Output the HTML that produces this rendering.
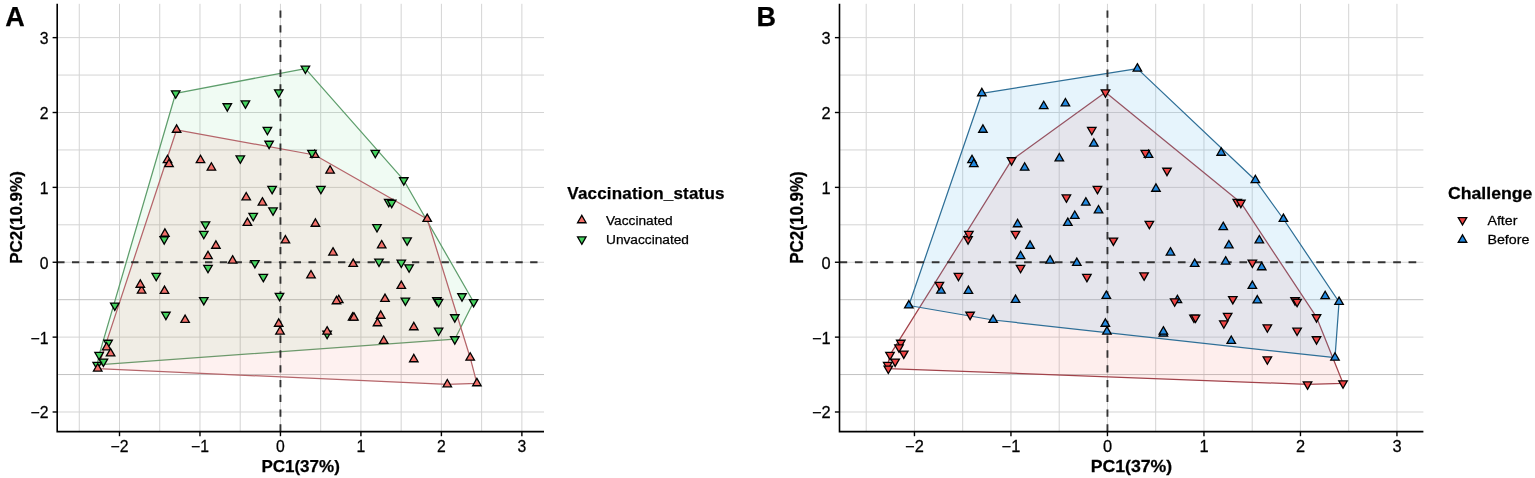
<!DOCTYPE html>
<html><head><meta charset="utf-8"><title>PCA plot</title>
<style>html,body{margin:0;padding:0;background:#fff;width:1535px;height:478px;overflow:hidden}svg{display:block}</style>
</head><body>
<svg width="1535" height="478" viewBox="0 0 1535 478" font-family="'Liberation Sans', Arial, Helvetica, sans-serif">
<style>text{stroke:#000;stroke-width:0.25px;fill:#000}</style>
<rect width="1535" height="478" fill="#fff"/>
<text x="5.3" y="26.1" font-size="27" font-weight="bold">A</text>
<text x="756.5" y="26.1" font-size="27" font-weight="bold">B</text>
<g stroke="#d4d4d4" stroke-width="1.0"><line x1="79.26" y1="3.8" x2="79.26" y2="431.6"/><line x1="119.5" y1="3.8" x2="119.5" y2="431.6"/><line x1="159.74" y1="3.8" x2="159.74" y2="431.6"/><line x1="199.97" y1="3.8" x2="199.97" y2="431.6"/><line x1="240.21" y1="3.8" x2="240.21" y2="431.6"/><line x1="280.45" y1="3.8" x2="280.45" y2="431.6"/><line x1="320.69" y1="3.8" x2="320.69" y2="431.6"/><line x1="360.92" y1="3.8" x2="360.92" y2="431.6"/><line x1="401.16" y1="3.8" x2="401.16" y2="431.6"/><line x1="441.4" y1="3.8" x2="441.4" y2="431.6"/><line x1="481.64" y1="3.8" x2="481.64" y2="431.6"/><line x1="521.88" y1="3.8" x2="521.88" y2="431.6"/><line x1="57.2" y1="411.99" x2="544.0" y2="411.99"/><line x1="57.2" y1="337.12" x2="544.0" y2="337.12"/><line x1="57.2" y1="262.25" x2="544.0" y2="262.25"/><line x1="57.2" y1="224.81" x2="544.0" y2="224.81"/><line x1="57.2" y1="187.38" x2="544.0" y2="187.38"/><line x1="57.2" y1="149.94" x2="544.0" y2="149.94"/><line x1="57.2" y1="112.51" x2="544.0" y2="112.51"/><line x1="57.2" y1="75.07" x2="544.0" y2="75.07"/><line x1="57.2" y1="37.64" x2="544.0" y2="37.64"/></g>
<g stroke="#c2c2c2" stroke-width="1.0"><line x1="57.2" y1="374.56" x2="544.0" y2="374.56"/><line x1="57.2" y1="299.69" x2="544.0" y2="299.69"/></g>
<path d="M175.7 93.3 L305.4 68.6 L403.8 180.2 L473.6 302 L454.8 339.2 L97.2 364.8 L99.1 354.9Z" fill="#00BA38" fill-opacity="0.06" stroke="#5E9E6C" stroke-width="1.25" stroke-linejoin="round"/>
<path d="M97.7 368.6 L176.6 129.8 L314.7 155 L427.2 219 L470.2 357.7 L476.9 383.3 L447.3 384.4Z" fill="#F8766D" fill-opacity="0.1" stroke="#B5656A" stroke-width="1.25" stroke-linejoin="round"/>
<g stroke="#262626" stroke-width="1.9" opacity="0.92"><line x1="57.2" y1="262.25" x2="544.0" y2="262.25" stroke-dasharray="7.35 7.43"/><line x1="280.45" y1="431.6" x2="280.45" y2="3.8" stroke-dasharray="7.35 7.43"/></g>
<g stroke="#000" stroke-width="1.3" stroke-linejoin="miter"><path d="M314.7 150.09L318.95 157.45L310.45 157.45Z" fill="#F3716B"/><path d="M175.7 98.21L179.95 90.85L171.45 90.85Z" fill="#45D35F"/><path d="M305.4 73.51L309.65 66.15L301.15 66.15Z" fill="#45D35F"/><path d="M278.8 97.21L283.05 89.85L274.55 89.85Z" fill="#45D35F"/><path d="M227.3 111.11L231.55 103.75L223.05 103.75Z" fill="#45D35F"/><path d="M245.4 108.31L249.65 100.95L241.15 100.95Z" fill="#45D35F"/><path d="M267.4 134.71L271.65 127.35L263.15 127.35Z" fill="#45D35F"/><path d="M269.1 148.61L273.35 141.25L264.85 141.25Z" fill="#45D35F"/><path d="M240.3 163.31L244.55 155.95L236.05 155.95Z" fill="#45D35F"/><path d="M312 157.71L316.25 150.35L307.75 150.35Z" fill="#45D35F"/><path d="M272.1 193.81L276.35 186.45L267.85 186.45Z" fill="#45D35F"/><path d="M320.9 193.71L325.15 186.35L316.65 186.35Z" fill="#45D35F"/><path d="M375.3 157.71L379.55 150.35L371.05 150.35Z" fill="#45D35F"/><path d="M403.8 185.11L408.05 177.75L399.55 177.75Z" fill="#45D35F"/><path d="M273 215.31L277.25 207.95L268.75 207.95Z" fill="#45D35F"/><path d="M253.2 220.81L257.45 213.45L248.95 213.45Z" fill="#45D35F"/><path d="M205.5 229.21L209.75 221.85L201.25 221.85Z" fill="#45D35F"/><path d="M203.8 238.71L208.05 231.35L199.55 231.35Z" fill="#45D35F"/><path d="M164.2 244.11L168.45 236.75L159.95 236.75Z" fill="#45D35F"/><path d="M254.9 267.91L259.15 260.55L250.65 260.55Z" fill="#45D35F"/><path d="M388.7 206.81L392.95 199.45L384.45 199.45Z" fill="#45D35F"/><path d="M391.7 207.61L395.95 200.25L387.45 200.25Z" fill="#45D35F"/><path d="M377 232.01L381.25 224.65L372.75 224.65Z" fill="#45D35F"/><path d="M407.1 245.31L411.35 237.95L402.85 237.95Z" fill="#45D35F"/><path d="M379 266.51L383.25 259.15L374.75 259.15Z" fill="#45D35F"/><path d="M401.3 267.51L405.55 260.15L397.05 260.15Z" fill="#45D35F"/><path d="M208 272.71L212.25 265.35L203.75 265.35Z" fill="#45D35F"/><path d="M156.2 280.71L160.45 273.35L151.95 273.35Z" fill="#45D35F"/><path d="M263.3 281.81L267.55 274.45L259.05 274.45Z" fill="#45D35F"/><path d="M279.5 300.81L283.75 293.45L275.25 293.45Z" fill="#45D35F"/><path d="M203.8 304.91L208.05 297.55L199.55 297.55Z" fill="#45D35F"/><path d="M114.8 310.41L119.05 303.05L110.55 303.05Z" fill="#45D35F"/><path d="M165.9 319.61L170.15 312.25L161.65 312.25Z" fill="#45D35F"/><path d="M409.1 272.21L413.35 264.85L404.85 264.85Z" fill="#45D35F"/><path d="M405.4 305.41L409.65 298.05L401.15 298.05Z" fill="#45D35F"/><path d="M436.9 305.11L441.15 297.75L432.65 297.75Z" fill="#45D35F"/><path d="M438.6 306.71L442.85 299.35L434.35 299.35Z" fill="#45D35F"/><path d="M462 301.11L466.25 293.75L457.75 293.75Z" fill="#45D35F"/><path d="M473.6 306.91L477.85 299.55L469.35 299.55Z" fill="#45D35F"/><path d="M454.8 322.11L459.05 314.75L450.55 314.75Z" fill="#45D35F"/><path d="M438.6 335.51L442.85 328.15L434.35 328.15Z" fill="#45D35F"/><path d="M454.8 344.11L459.05 336.75L450.55 336.75Z" fill="#45D35F"/><path d="M327.1 338.61L331.35 331.25L322.85 331.25Z" fill="#45D35F"/><path d="M108.1 347.61L112.35 340.25L103.85 340.25Z" fill="#45D35F"/><path d="M99.1 359.81L103.35 352.45L94.85 352.45Z" fill="#45D35F"/><path d="M103.4 366.41L107.65 359.05L99.15 359.05Z" fill="#45D35F"/><path d="M97.2 369.71L101.45 362.35L92.95 362.35Z" fill="#45D35F"/><path d="M176.6 124.89L180.85 132.25L172.35 132.25Z" fill="#F3716B"/><path d="M167.5 155.29L171.75 162.65L163.25 162.65Z" fill="#F3716B"/><path d="M169 159.29L173.25 166.65L164.75 166.65Z" fill="#F3716B"/><path d="M200.5 155.29L204.75 162.65L196.25 162.65Z" fill="#F3716B"/><path d="M211.4 162.79L215.65 170.15L207.15 170.15Z" fill="#F3716B"/><path d="M330.1 165.79L334.35 173.15L325.85 173.15Z" fill="#F3716B"/><path d="M246.2 192.49L250.45 199.85L241.95 199.85Z" fill="#F3716B"/><path d="M262.4 197.69L266.65 205.05L258.15 205.05Z" fill="#F3716B"/><path d="M247.4 218.09L251.65 225.45L243.15 225.45Z" fill="#F3716B"/><path d="M315.4 218.89L319.65 226.25L311.15 226.25Z" fill="#F3716B"/><path d="M164.9 228.89L169.15 236.25L160.65 236.25Z" fill="#F3716B"/><path d="M285.4 235.59L289.65 242.95L281.15 242.95Z" fill="#F3716B"/><path d="M215.9 240.89L220.15 248.25L211.65 248.25Z" fill="#F3716B"/><path d="M208 251.29L212.25 258.65L203.75 258.65Z" fill="#F3716B"/><path d="M232.6 255.69L236.85 263.05L228.35 263.05Z" fill="#F3716B"/><path d="M427.2 214.09L431.45 221.45L422.95 221.45Z" fill="#F3716B"/><path d="M381.7 240.49L385.95 247.85L377.45 247.85Z" fill="#F3716B"/><path d="M333 247.69L337.25 255.05L328.75 255.05Z" fill="#F3716B"/><path d="M353.2 259.09L357.45 266.45L348.95 266.45Z" fill="#F3716B"/><path d="M311 270.49L315.25 277.85L306.75 277.85Z" fill="#F3716B"/><path d="M141.6 285.79L145.85 293.15L137.35 293.15Z" fill="#F3716B"/><path d="M140.3 279.89L144.55 287.25L136.05 287.25Z" fill="#F3716B"/><path d="M164.5 286.09L168.75 293.45L160.25 293.45Z" fill="#F3716B"/><path d="M185.1 315.09L189.35 322.45L180.85 322.45Z" fill="#F3716B"/><path d="M278.7 318.89L282.95 326.25L274.45 326.25Z" fill="#F3716B"/><path d="M280 326.69L284.25 334.05L275.75 334.05Z" fill="#F3716B"/><path d="M401.3 281.09L405.55 288.45L397.05 288.45Z" fill="#F3716B"/><path d="M338.8 295.29L343.05 302.65L334.55 302.65Z" fill="#F3716B"/><path d="M336.5 296.39L340.75 303.75L332.25 303.75Z" fill="#F3716B"/><path d="M385 294.09L389.25 301.45L380.75 301.45Z" fill="#F3716B"/><path d="M352.6 312.69L356.85 320.05L348.35 320.05Z" fill="#F3716B"/><path d="M353.9 312.69L358.15 320.05L349.65 320.05Z" fill="#F3716B"/><path d="M380.7 310.89L384.95 318.25L376.45 318.25Z" fill="#F3716B"/><path d="M377.5 318.39L381.75 325.75L373.25 325.75Z" fill="#F3716B"/><path d="M413.8 322.39L418.05 329.75L409.55 329.75Z" fill="#F3716B"/><path d="M327.1 326.69L331.35 334.05L322.85 334.05Z" fill="#F3716B"/><path d="M383.7 335.99L387.95 343.35L379.45 343.35Z" fill="#F3716B"/><path d="M413.8 354.39L418.05 361.75L409.55 361.75Z" fill="#F3716B"/><path d="M470.2 352.79L474.45 360.15L465.95 360.15Z" fill="#F3716B"/><path d="M447.3 379.49L451.55 386.85L443.05 386.85Z" fill="#F3716B"/><path d="M476.9 378.39L481.15 385.75L472.65 385.75Z" fill="#F3716B"/><path d="M106.6 342.49L110.85 349.85L102.35 349.85Z" fill="#F3716B"/><path d="M110.6 348.59L114.85 355.95L106.35 355.95Z" fill="#F3716B"/><path d="M97.7 363.69L101.95 371.05L93.45 371.05Z" fill="#F3716B"/></g>
<path d="M57.2 3.8 L57.2 431.6 L544.0 431.6" fill="none" stroke="#000" stroke-width="1.6" stroke-linecap="butt" stroke-linejoin="miter"/>
<g stroke="#000" stroke-width="1.4"><line x1="119.5" y1="431.6" x2="119.5" y2="436.20000000000005"/><line x1="52.6" y1="411.99" x2="57.2" y2="411.99"/><line x1="199.97" y1="431.6" x2="199.97" y2="436.20000000000005"/><line x1="52.6" y1="337.12" x2="57.2" y2="337.12"/><line x1="280.45" y1="431.6" x2="280.45" y2="436.20000000000005"/><line x1="52.6" y1="262.25" x2="57.2" y2="262.25"/><line x1="360.92" y1="431.6" x2="360.92" y2="436.20000000000005"/><line x1="52.6" y1="187.38" x2="57.2" y2="187.38"/><line x1="441.4" y1="431.6" x2="441.4" y2="436.20000000000005"/><line x1="52.6" y1="112.51" x2="57.2" y2="112.51"/><line x1="521.88" y1="431.6" x2="521.88" y2="436.20000000000005"/><line x1="52.6" y1="37.64" x2="57.2" y2="37.64"/></g>
<g font-size="15.6"><text x="119.5" y="451.6" transform="translate(119.5 0) scale(1.01 1) translate(-119.5 0)" text-anchor="middle">−2</text><text x="48.4" y="418.39" transform="translate(48.4 0) scale(1.01 1) translate(-48.4 0)" text-anchor="end">−2</text><text x="199.97" y="451.6" transform="translate(199.97 0) scale(1.01 1) translate(-199.97 0)" text-anchor="middle">−1</text><text x="48.4" y="343.52" transform="translate(48.4 0) scale(1.01 1) translate(-48.4 0)" text-anchor="end">−1</text><text x="280.45" y="451.6" transform="translate(280.45 0) scale(1.01 1) translate(-280.45 0)" text-anchor="middle">0</text><text x="48.4" y="268.65" transform="translate(48.4 0) scale(1.01 1) translate(-48.4 0)" text-anchor="end">0</text><text x="360.92" y="451.6" transform="translate(360.92 0) scale(1.01 1) translate(-360.92 0)" text-anchor="middle">1</text><text x="48.4" y="193.78" transform="translate(48.4 0) scale(1.01 1) translate(-48.4 0)" text-anchor="end">1</text><text x="441.4" y="451.6" transform="translate(441.4 0) scale(1.01 1) translate(-441.4 0)" text-anchor="middle">2</text><text x="48.4" y="118.91" transform="translate(48.4 0) scale(1.01 1) translate(-48.4 0)" text-anchor="end">2</text><text x="521.88" y="451.6" transform="translate(521.88 0) scale(1.01 1) translate(-521.88 0)" text-anchor="middle">3</text><text x="48.4" y="44.04" transform="translate(48.4 0) scale(1.01 1) translate(-48.4 0)" text-anchor="end">3</text></g>
<text x="300.6" y="471.9" text-anchor="middle" font-size="17" font-weight="bold">PC1(37%)</text>
<text transform="translate(21.9 217.5) scale(1.0 1) rotate(-90)" text-anchor="middle" font-size="17" font-weight="bold">PC2(10.9%)</text>
<text x="567.3" y="199.4" font-size="17" font-weight="bold" textLength="157.2">Vaccination_status</text>
<g stroke="#000" stroke-width="1.3"><path d="M581.8 215.39L586.05 222.75L577.55 222.75Z" fill="#F3716B"/><path d="M581.8 244.31L586.05 236.95L577.55 236.95Z" fill="#45D35F"/></g>
<text x="606" y="224.7" font-size="13.7">Vaccinated</text>
<text x="606" y="244.4" font-size="13.7">Unvaccinated</text>
<g stroke="#d4d4d4" stroke-width="1.0"><line x1="866.2" y1="3.8" x2="866.2" y2="431.6"/><line x1="914.45" y1="3.8" x2="914.45" y2="431.6"/><line x1="962.7" y1="3.8" x2="962.7" y2="431.6"/><line x1="1010.95" y1="3.8" x2="1010.95" y2="431.6"/><line x1="1059.2" y1="3.8" x2="1059.2" y2="431.6"/><line x1="1107.45" y1="3.8" x2="1107.45" y2="431.6"/><line x1="1155.7" y1="3.8" x2="1155.7" y2="431.6"/><line x1="1203.95" y1="3.8" x2="1203.95" y2="431.6"/><line x1="1252.2" y1="3.8" x2="1252.2" y2="431.6"/><line x1="1300.45" y1="3.8" x2="1300.45" y2="431.6"/><line x1="1348.7" y1="3.8" x2="1348.7" y2="431.6"/><line x1="1396.95" y1="3.8" x2="1396.95" y2="431.6"/><line x1="839.5" y1="411.99" x2="1423.4" y2="411.99"/><line x1="839.5" y1="337.12" x2="1423.4" y2="337.12"/><line x1="839.5" y1="262.25" x2="1423.4" y2="262.25"/><line x1="839.5" y1="224.81" x2="1423.4" y2="224.81"/><line x1="839.5" y1="187.38" x2="1423.4" y2="187.38"/><line x1="839.5" y1="149.94" x2="1423.4" y2="149.94"/><line x1="839.5" y1="112.51" x2="1423.4" y2="112.51"/><line x1="839.5" y1="75.07" x2="1423.4" y2="75.07"/><line x1="839.5" y1="37.64" x2="1423.4" y2="37.64"/></g>
<g stroke="#c2c2c2" stroke-width="1.0"><line x1="839.5" y1="374.56" x2="1423.4" y2="374.56"/><line x1="839.5" y1="299.69" x2="1423.4" y2="299.69"/></g>
<path d="M1105.47 92.3 L1240.85 202.7 L1316.52 317.2 L1343.02 383.3 L1307.52 384.4 L888.31 368.6 L887.71 364.8 L889.99 354.9 L1011.58 160.2Z" fill="#F8766D" fill-opacity="0.125" stroke="#A2434B" stroke-width="1.25" stroke-linejoin="round"/>
<path d="M908.81 305.5 L981.84 93.3 L1137.37 68.6 L1255.36 180.2 L1283.42 219 L1339.06 302 L1334.98 357.7 L993.11 320Z" fill="#56B4E9" fill-opacity="0.15" stroke="#2E6F97" stroke-width="1.25" stroke-linejoin="round"/>
<g stroke="#262626" stroke-width="1.9" opacity="0.92"><line x1="839.5" y1="262.25" x2="1423.4" y2="262.25" stroke-dasharray="7.7 7.68"/><line x1="1107.45" y1="431.6" x2="1107.45" y2="3.8" stroke-dasharray="7.35 7.43"/></g>
<g stroke="#000" stroke-width="1.3" stroke-linejoin="miter"><path d="M1148.52 150.09L1152.77 157.45L1144.27 157.45Z" fill="#2389DF"/><path d="M981.84 88.39L986.09 95.75L977.59 95.75Z" fill="#2389DF"/><path d="M1137.37 63.69L1141.62 71.05L1133.12 71.05Z" fill="#2389DF"/><path d="M1105.47 97.21L1109.72 89.85L1101.22 89.85Z" fill="#EE4444"/><path d="M1043.72 101.29L1047.97 108.65L1039.47 108.65Z" fill="#2389DF"/><path d="M1065.42 98.49L1069.67 105.85L1061.17 105.85Z" fill="#2389DF"/><path d="M1091.8 134.71L1096.05 127.35L1087.55 127.35Z" fill="#EE4444"/><path d="M1093.84 138.79L1098.09 146.15L1089.59 146.15Z" fill="#2389DF"/><path d="M1059.3 153.49L1063.55 160.85L1055.05 160.85Z" fill="#2389DF"/><path d="M1145.28 157.71L1149.53 150.35L1141.03 150.35Z" fill="#EE4444"/><path d="M1097.44 193.81L1101.69 186.45L1093.19 186.45Z" fill="#EE4444"/><path d="M1155.95 183.89L1160.2 191.25L1151.7 191.25Z" fill="#2389DF"/><path d="M1221.19 147.89L1225.44 155.25L1216.94 155.25Z" fill="#2389DF"/><path d="M1255.36 175.29L1259.61 182.65L1251.11 182.65Z" fill="#2389DF"/><path d="M1098.52 205.49L1102.77 212.85L1094.27 212.85Z" fill="#2389DF"/><path d="M1074.77 210.99L1079.02 218.35L1070.52 218.35Z" fill="#2389DF"/><path d="M1017.58 219.39L1021.83 226.75L1013.33 226.75Z" fill="#2389DF"/><path d="M1015.54 238.71L1019.79 231.35L1011.29 231.35Z" fill="#EE4444"/><path d="M968.05 244.11L972.3 236.75L963.8 236.75Z" fill="#EE4444"/><path d="M1076.81 258.09L1081.06 265.45L1072.56 265.45Z" fill="#2389DF"/><path d="M1237.26 206.81L1241.51 199.45L1233.01 199.45Z" fill="#EE4444"/><path d="M1240.85 207.61L1245.1 200.25L1236.6 200.25Z" fill="#EE4444"/><path d="M1223.23 222.19L1227.48 229.55L1218.98 229.55Z" fill="#2389DF"/><path d="M1259.32 235.49L1263.57 242.85L1255.07 242.85Z" fill="#2389DF"/><path d="M1225.62 256.69L1229.87 264.05L1221.37 264.05Z" fill="#2389DF"/><path d="M1252.36 267.51L1256.61 260.15L1248.11 260.15Z" fill="#EE4444"/><path d="M1020.57 272.71L1024.82 265.35L1016.32 265.35Z" fill="#EE4444"/><path d="M958.46 280.71L962.71 273.35L954.21 273.35Z" fill="#EE4444"/><path d="M1086.88 281.81L1091.13 274.45L1082.63 274.45Z" fill="#EE4444"/><path d="M1106.31 290.99L1110.56 298.35L1102.06 298.35Z" fill="#2389DF"/><path d="M1015.54 295.09L1019.79 302.45L1011.29 302.45Z" fill="#2389DF"/><path d="M908.81 300.59L913.06 307.95L904.56 307.95Z" fill="#2389DF"/><path d="M970.09 319.61L974.34 312.25L965.84 312.25Z" fill="#EE4444"/><path d="M1261.72 262.39L1265.97 269.75L1257.47 269.75Z" fill="#2389DF"/><path d="M1257.28 295.59L1261.53 302.95L1253.03 302.95Z" fill="#2389DF"/><path d="M1295.05 305.11L1299.3 297.75L1290.8 297.75Z" fill="#EE4444"/><path d="M1297.09 306.71L1301.34 299.35L1292.84 299.35Z" fill="#EE4444"/><path d="M1325.15 291.29L1329.4 298.65L1320.9 298.65Z" fill="#2389DF"/><path d="M1339.06 297.09L1343.31 304.45L1334.81 304.45Z" fill="#2389DF"/><path d="M1316.52 322.11L1320.77 314.75L1312.27 314.75Z" fill="#EE4444"/><path d="M1297.09 335.51L1301.34 328.15L1292.84 328.15Z" fill="#EE4444"/><path d="M1316.52 344.11L1320.77 336.75L1312.27 336.75Z" fill="#EE4444"/><path d="M1163.39 328.79L1167.64 336.15L1159.14 336.15Z" fill="#2389DF"/><path d="M900.78 347.61L905.03 340.25L896.53 340.25Z" fill="#EE4444"/><path d="M889.99 359.81L894.24 352.45L885.74 352.45Z" fill="#EE4444"/><path d="M895.14 366.41L899.39 359.05L890.89 359.05Z" fill="#EE4444"/><path d="M887.71 369.71L891.96 362.35L883.46 362.35Z" fill="#EE4444"/><path d="M982.92 124.89L987.17 132.25L978.67 132.25Z" fill="#2389DF"/><path d="M972.01 155.29L976.26 162.65L967.76 162.65Z" fill="#2389DF"/><path d="M973.81 159.29L978.06 166.65L969.56 166.65Z" fill="#2389DF"/><path d="M1011.58 165.11L1015.83 157.75L1007.33 157.75Z" fill="#EE4444"/><path d="M1024.65 162.79L1028.9 170.15L1020.4 170.15Z" fill="#2389DF"/><path d="M1166.99 175.61L1171.24 168.25L1162.74 168.25Z" fill="#EE4444"/><path d="M1066.38 202.31L1070.63 194.95L1062.13 194.95Z" fill="#EE4444"/><path d="M1085.81 197.69L1090.06 205.05L1081.56 205.05Z" fill="#2389DF"/><path d="M1067.82 218.09L1072.07 225.45L1063.57 225.45Z" fill="#2389DF"/><path d="M1149.36 228.71L1153.61 221.35L1145.11 221.35Z" fill="#EE4444"/><path d="M968.89 238.71L973.14 231.35L964.64 231.35Z" fill="#EE4444"/><path d="M1113.39 245.41L1117.64 238.05L1109.14 238.05Z" fill="#EE4444"/><path d="M1030.05 240.89L1034.3 248.25L1025.8 248.25Z" fill="#2389DF"/><path d="M1020.57 251.29L1024.82 258.65L1016.32 258.65Z" fill="#2389DF"/><path d="M1050.07 255.69L1054.32 263.05L1045.82 263.05Z" fill="#2389DF"/><path d="M1283.42 214.09L1287.67 221.45L1279.17 221.45Z" fill="#2389DF"/><path d="M1228.86 240.49L1233.11 247.85L1224.61 247.85Z" fill="#2389DF"/><path d="M1170.46 247.69L1174.71 255.05L1166.21 255.05Z" fill="#2389DF"/><path d="M1194.69 259.09L1198.94 266.45L1190.44 266.45Z" fill="#2389DF"/><path d="M1144.08 280.31L1148.33 272.95L1139.83 272.95Z" fill="#EE4444"/><path d="M940.95 285.79L945.2 293.15L936.7 293.15Z" fill="#2389DF"/><path d="M939.39 289.71L943.64 282.35L935.14 282.35Z" fill="#EE4444"/><path d="M968.41 286.09L972.66 293.45L964.16 293.45Z" fill="#2389DF"/><path d="M993.11 315.09L997.36 322.45L988.86 322.45Z" fill="#2389DF"/><path d="M1105.35 318.89L1109.6 326.25L1101.1 326.25Z" fill="#2389DF"/><path d="M1106.91 326.69L1111.16 334.05L1102.66 334.05Z" fill="#2389DF"/><path d="M1252.36 281.09L1256.61 288.45L1248.11 288.45Z" fill="#2389DF"/><path d="M1177.42 295.29L1181.67 302.65L1173.17 302.65Z" fill="#2389DF"/><path d="M1174.66 306.21L1178.91 298.85L1170.41 298.85Z" fill="#EE4444"/><path d="M1232.82 303.91L1237.07 296.55L1228.57 296.55Z" fill="#EE4444"/><path d="M1193.97 322.51L1198.22 315.15L1189.72 315.15Z" fill="#EE4444"/><path d="M1195.53 322.51L1199.78 315.15L1191.28 315.15Z" fill="#EE4444"/><path d="M1227.66 320.71L1231.91 313.35L1223.41 313.35Z" fill="#EE4444"/><path d="M1223.83 328.21L1228.08 320.85L1219.58 320.85Z" fill="#EE4444"/><path d="M1267.35 332.21L1271.6 324.85L1263.1 324.85Z" fill="#EE4444"/><path d="M1163.39 326.69L1167.64 334.05L1159.14 334.05Z" fill="#2389DF"/><path d="M1231.26 335.99L1235.51 343.35L1227.01 343.35Z" fill="#2389DF"/><path d="M1267.35 364.21L1271.6 356.85L1263.1 356.85Z" fill="#EE4444"/><path d="M1334.98 352.79L1339.23 360.15L1330.73 360.15Z" fill="#2389DF"/><path d="M1307.52 389.31L1311.77 381.95L1303.27 381.95Z" fill="#EE4444"/><path d="M1343.02 388.21L1347.27 380.85L1338.77 380.85Z" fill="#EE4444"/><path d="M898.98 352.31L903.23 344.95L894.73 344.95Z" fill="#EE4444"/><path d="M903.78 358.41L908.03 351.05L899.53 351.05Z" fill="#EE4444"/><path d="M888.31 373.51L892.56 366.15L884.06 366.15Z" fill="#EE4444"/></g>
<path d="M839.5 3.8 L839.5 431.6 L1423.4 431.6" fill="none" stroke="#000" stroke-width="1.6" stroke-linecap="butt" stroke-linejoin="miter"/>
<g stroke="#000" stroke-width="1.4"><line x1="914.45" y1="431.6" x2="914.45" y2="436.20000000000005"/><line x1="834.9" y1="411.99" x2="839.5" y2="411.99"/><line x1="1010.95" y1="431.6" x2="1010.95" y2="436.20000000000005"/><line x1="834.9" y1="337.12" x2="839.5" y2="337.12"/><line x1="1107.45" y1="431.6" x2="1107.45" y2="436.20000000000005"/><line x1="834.9" y1="262.25" x2="839.5" y2="262.25"/><line x1="1203.95" y1="431.6" x2="1203.95" y2="436.20000000000005"/><line x1="834.9" y1="187.38" x2="839.5" y2="187.38"/><line x1="1300.45" y1="431.6" x2="1300.45" y2="436.20000000000005"/><line x1="834.9" y1="112.51" x2="839.5" y2="112.51"/><line x1="1396.95" y1="431.6" x2="1396.95" y2="436.20000000000005"/><line x1="834.9" y1="37.64" x2="839.5" y2="37.64"/></g>
<g font-size="15.6"><text x="914.45" y="451.6" transform="translate(914.45 0) scale(1.0504 1) translate(-914.45 0)" text-anchor="middle">−2</text><text x="830.7" y="418.39" transform="translate(830.7 0) scale(1.0504 1) translate(-830.7 0)" text-anchor="end">−2</text><text x="1010.95" y="451.6" transform="translate(1010.95 0) scale(1.0504 1) translate(-1010.95 0)" text-anchor="middle">−1</text><text x="830.7" y="343.52" transform="translate(830.7 0) scale(1.0504 1) translate(-830.7 0)" text-anchor="end">−1</text><text x="1107.45" y="451.6" transform="translate(1107.45 0) scale(1.0504 1) translate(-1107.45 0)" text-anchor="middle">0</text><text x="830.7" y="268.65" transform="translate(830.7 0) scale(1.0504 1) translate(-830.7 0)" text-anchor="end">0</text><text x="1203.95" y="451.6" transform="translate(1203.95 0) scale(1.0504 1) translate(-1203.95 0)" text-anchor="middle">1</text><text x="830.7" y="193.78" transform="translate(830.7 0) scale(1.0504 1) translate(-830.7 0)" text-anchor="end">1</text><text x="1300.45" y="451.6" transform="translate(1300.45 0) scale(1.0504 1) translate(-1300.45 0)" text-anchor="middle">2</text><text x="830.7" y="118.91" transform="translate(830.7 0) scale(1.0504 1) translate(-830.7 0)" text-anchor="end">2</text><text x="1396.95" y="451.6" transform="translate(1396.95 0) scale(1.0504 1) translate(-1396.95 0)" text-anchor="middle">3</text><text x="830.7" y="44.04" transform="translate(830.7 0) scale(1.0504 1) translate(-830.7 0)" text-anchor="end">3</text></g>
<text x="1131.45" y="471.9" transform="translate(1131.45 0) scale(1.04 1) translate(-1131.45 0)" text-anchor="middle" font-size="17" font-weight="bold">PC1(37%)</text>
<text transform="translate(803.1 217.5) scale(1.04 1) rotate(-90)" text-anchor="middle" font-size="17" font-weight="bold">PC2(10.9%)</text>
<text x="1448" y="199.4" transform="translate(1448 0) scale(1.04 1) translate(-1448 0)" font-size="17" font-weight="bold">Challenge</text>
<g stroke="#000" stroke-width="1.3"><path d="M1462.5 224.91L1466.75 217.55L1458.25 217.55Z" fill="#EE4444"/><path d="M1462.5 234.89L1466.75 242.25L1458.25 242.25Z" fill="#2389DF"/></g>
<text x="1487.4" y="224.7" transform="translate(1487.4 0) scale(1.04 1) translate(-1487.4 0)" font-size="13.7">After</text>
<text x="1487.4" y="244.4" transform="translate(1487.4 0) scale(1.04 1) translate(-1487.4 0)" font-size="13.7">Before</text>
</svg>
</body></html>
